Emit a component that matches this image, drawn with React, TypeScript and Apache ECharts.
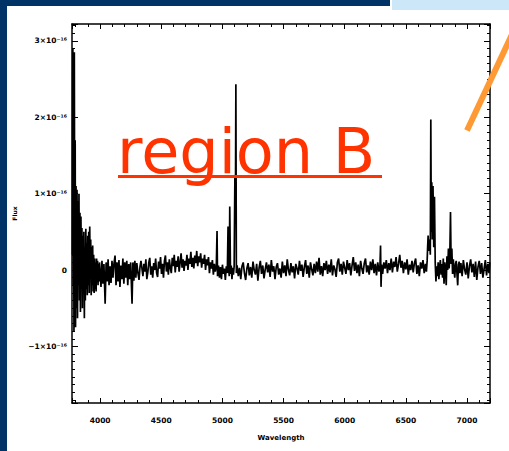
import React, { useEffect, useRef } from "react";
import * as echarts from "echarts";

// Spectrum: [wavelength (Å), flux in units of 1e-16]
const spectrum: [number, number][] = [
  [3774, 0.2], [3777, 2.9], [3780, -0.2], [3783, 1.75], [3786, -0.8], [3789, 2.85], [3792, 0.4],
  [3796, 1.7], [3799, -0.75], [3803, 1.1], [3807, -0.5], [3811, 1.05], [3815, -0.63], [3819, 0.9],
  [3823, -0.2], [3827, 1.0], [3831, -0.4], [3835, 0.75], [3839, -0.55], [3843, 0.7], [3847, -0.1],
  [3851, 0.55], [3855, -0.5], [3859, 0.45], [3863, -0.3], [3867, 0.5], [3871, -0.63], [3875, 0.3],
  [3879, -0.4], [3883, 0.54], [3887, -0.25], [3891, 0.35], [3895, -0.33], [3899, 0.45], [3903, -0.2],
  [3907, 0.5], [3911, -0.3], [3915, 0.57], [3919, -0.1], [3923, 0.4], [3927, -0.33], [3931, 0.3],
  [3935, -0.2], [3939, 0.32], [3943, -0.28], [3947, 0.2], [3951, -0.3], [3955, 0.15], [3959, -0.25],
  [3963, 0.1], [3967, -0.28], [3971, 0.15], [3975, -0.15], [3979, 0.12], [3983, -0.2], [3987, 0.08],
  [3991, -0.15], [3995, 0.1],
  [3999, 0.1], [4007, -0.22], [4015, 0.12], [4023, -0.18], [4031, 0.08], [4041, -0.44], [4049, 0.1],
  [4057, -0.15], [4065, 0.14], [4073, -0.2], [4081, 0.05], [4089, -0.17], [4097, 0.12], [4105, -0.1],
  [4113, 0.08], [4122, 0.19], [4130, -0.2], [4138, 0.1], [4146, -0.15], [4154, 0.13], [4162, -0.22],
  [4170, 0.06], [4178, -0.12], [4186, 0.15], [4194, -0.18], [4202, 0.1], [4210, -0.1], [4218, 0.12],
  [4226, -0.2], [4234, 0.08], [4242, -0.12], [4250, 0.1], [4261, -0.44], [4268, 0.1], [4276, -0.14],
  [4284, 0.12], [4292, -0.1], [4300, 0.09],
  [4310, -0.05], [4318, -0.13], [4326, 0.04], [4334, 0.12], [4342, 0.02], [4350, -0.08], [4358, 0.08],
  [4366, -0.02], [4374, 0.14], [4382, -0.12], [4390, -0.03], [4398, 0.1], [4406, 0.16], [4414, -0.06],
  [4422, 0.05], [4430, -0.1], [4438, 0.09], [4446, 0.0], [4454, 0.15], [4462, -0.04], [4470, -0.09],
  [4478, 0.11], [4486, 0.02], [4494, 0.17], [4502, -0.05], [4510, 0.08], [4518, -0.1], [4526, 0.12],
  [4534, 0.19], [4542, -0.02], [4550, 0.1], [4558, -0.06], [4566, 0.14], [4574, 0.03], [4582, -0.04],
  [4590, 0.16], [4598, 0.05], [4606, 0.2], [4614, -0.03], [4622, 0.12], [4630, 0.04], [4638, 0.18],
  [4646, -0.02], [4654, 0.1], [4662, 0.22], [4670, 0.03], [4678, 0.14], [4686, -0.01], [4694, 0.12],
  [4702, 0.06], [4710, 0.2], [4718, 0.0], [4726, 0.15], [4734, 0.08], [4742, 0.24], [4750, 0.04],
  [4758, 0.16], [4766, 0.02], [4774, 0.19], [4782, 0.09], [4790, 0.25], [4798, 0.05], [4806, 0.18],
  [4814, 0.1], [4822, 0.22], [4830, 0.03], [4838, 0.15], [4846, 0.08], [4854, 0.2], [4862, 0.0],
  [4870, 0.14], [4878, 0.06], [4886, 0.17], [4894, -0.04], [4902, 0.1], [4910, 0.02], [4918, 0.13],
  [4926, -0.06], [4934, 0.08], [4942, -0.02], [4950, 0.05],
  [4956, 0.51], [4960, -0.08], [4968, 0.06], [4976, -0.1], [4984, 0.04], [4992, -0.12], [5000, 0.07],
  [5008, -0.05], [5016, 0.02], [5024, -0.13], [5032, 0.05], [5040, -0.04], [5046, 0.57], [5052, 0.0],
  [5056, -0.08], [5060, 0.83], [5066, -0.05], [5072, 0.06], [5078, -0.12], [5084, 0.03], [5090, -0.06],
  [5096, 0.05], [5102, 1.23], [5106, 0.6], [5110, 2.43], [5114, -0.04], [5120, 0.06],
  [5130, -0.08], [5140, 0.03], [5150, -0.12], [5160, 0.05], [5170, 0.1], [5180, -0.04], [5190, -0.13],
  [5200, 0.02], [5210, 0.09], [5220, -0.07], [5230, 0.04], [5240, -0.1], [5250, 0.11], [5260, 0.0],
  [5270, -0.06], [5280, 0.08], [5290, -0.14], [5300, 0.03], [5310, 0.12], [5320, -0.05], [5330, 0.06],
  [5340, -0.11], [5350, 0.01], [5360, 0.1], [5370, -0.03], [5380, 0.07], [5390, -0.09], [5400, 0.13],
  [5410, -0.02], [5420, 0.05], [5430, -0.12], [5440, 0.04], [5450, 0.09], [5460, -0.06], [5470, 0.02],
  [5480, -0.1], [5490, 0.11], [5500, -0.04], [5510, 0.06], [5520, -0.08], [5530, 0.14], [5540, 0.0],
  [5550, -0.07], [5560, 0.09], [5570, -0.03], [5580, 0.05], [5590, -0.11], [5600, 0.08], [5610, 0.02],
  [5620, -0.06], [5630, 0.12], [5640, -0.01], [5650, 0.07], [5660, -0.09], [5670, 0.04], [5680, 0.13],
  [5690, -0.05], [5700, 0.06], [5710, -0.1], [5720, 0.1], [5730, 0.01], [5740, -0.07], [5750, 0.08],
  [5760, -0.04], [5770, 0.11], [5780, -0.02], [5790, 0.16], [5800, -0.06], [5810, 0.05], [5820, -0.08],
  [5830, 0.09], [5840, 0.0], [5850, 0.12], [5860, -0.05], [5870, 0.07], [5880, -0.03], [5890, 0.14],
  [5900, -0.07], [5910, 0.06], [5920, 0.01], [5930, -0.09], [5940, 0.1], [5950, 0.15], [5960, -0.02],
  [5970, 0.08], [5980, -0.06], [5990, 0.11], [6000, 0.03], [6010, -0.05], [6020, 0.13], [6030, 0.0],
  [6040, 0.09], [6050, -0.07], [6060, 0.06], [6070, 0.17], [6080, -0.01], [6090, 0.1], [6100, -0.04],
  [6110, 0.07], [6120, -0.08], [6130, 0.12], [6140, 0.02], [6150, -0.05], [6160, 0.09], [6170, 0.15],
  [6180, -0.03], [6190, 0.06], [6200, -0.06], [6210, 0.11], [6220, 0.0], [6230, 0.14], [6240, -0.04],
  [6250, 0.08], [6260, -0.07], [6270, 0.1], [6280, -0.02], [6288, 0.05], [6293, 0.32], [6297, -0.22],
  [6302, 0.07], [6310, -0.05], [6320, 0.1], [6330, 0.02], [6340, 0.13], [6350, -0.04], [6360, 0.09],
  [6370, 0.0], [6380, 0.15], [6390, -0.03], [6400, 0.11], [6410, 0.04], [6420, 0.17], [6430, -0.02],
  [6440, 0.08], [6450, 0.2], [6460, 0.03], [6470, 0.12], [6480, -0.04], [6490, 0.1], [6500, 0.01],
  [6510, 0.14], [6520, -0.06], [6530, 0.07], [6540, 0.0], [6550, 0.12], [6560, -0.03], [6570, 0.09],
  [6580, 0.15], [6590, -0.05], [6600, 0.06], [6610, -0.08], [6620, 0.1], [6630, 0.02], [6640, 0.13],
  [6650, -0.04], [6660, 0.08], [6668, -0.02], [6674, 0.12],
  [6678, 0.3], [6682, 0.45], [6688, 0.25], [6694, 0.4], [6700, 0.2], [6704, 1.97], [6708, 0.5],
  [6712, 1.15], [6716, 0.4], [6722, 1.1], [6728, 0.3], [6734, 0.96], [6740, 0.1],
  [6746, -0.15], [6752, 0.05], [6758, -0.08], [6764, 0.1], [6770, -0.12], [6776, 0.04], [6782, 0.13],
  [6788, -0.06], [6794, 0.08], [6800, -0.1], [6806, 0.15], [6812, -0.18], [6818, 0.1], [6824, 0.02],
  [6830, -0.2], [6836, 0.18], [6842, 0.0], [6848, 0.28], [6854, 0.02], [6860, 0.25], [6865, 0.76],
  [6870, 0.08], [6876, 0.28], [6882, -0.05], [6888, 0.14], [6894, 0.0], [6900, -0.1], [6906, 0.08],
  [6912, 0.12], [6918, -0.05], [6924, -0.2], [6930, 0.07], [6936, 0.11], [6942, -0.04], [6950, 0.09],
  [6960, -0.08], [6970, 0.13], [6980, 0.01], [6990, -0.06], [7000, 0.1], [7010, -0.11], [7020, 0.05],
  [7030, 0.14], [7040, -0.03], [7050, 0.08], [7060, -0.09], [7070, 0.11], [7080, -0.13], [7090, 0.04],
  [7100, 0.12], [7110, -0.05], [7120, 0.09], [7130, -0.1], [7140, 0.02], [7150, 0.13], [7160, -0.07],
  [7170, 0.08], [7180, -0.04], [7186, 0.1],
];

const xRange: [number, number] = [3770, 7188];
const yRange: [number, number] = [-1.74, 3.22];
const xTickStep = 500;
const yTickStep = 1;
const xName = "Wavelength";
const yName = "Flux";
const overlayText = "region B";

const SUP: Record<string, string> = { "-": "⁻", "0": "⁰", "1": "¹", "2": "²", "3": "³", "4": "⁴", "5": "⁵", "6": "⁶", "7": "⁷", "8": "⁸", "9": "⁹" };
const sup = (s: string) => s.split("").map((c) => SUP[c] ?? c).join("");

function yFmt(v: number): string {
  if (Math.abs(v - Math.round(v)) > 1e-6) return "";
  const r = Math.round(v);
  if (r === 0) return "0";
  return `${r < 0 ? "−" : ""}${Math.abs(r)}×10${sup("-16")}`;
}
function xFmt(v: number): string {
  if (Math.abs(v / xTickStep - Math.round(v / xTickStep)) > 1e-6) return "";
  return String(Math.round(v));
}

const FONT = "DejaVu Sans";

export default function App() {
  const ref = useRef<HTMLDivElement>(null);
  useEffect(() => {
    if (!ref.current) return;
    const chart = echarts.init(ref.current, undefined, { renderer: "svg" });
    const axisLine = { show: true, onZero: false, lineStyle: { color: "#000", width: 1.5 } };
    const baseX = (pos: "bottom" | "top", labels: boolean) => ({
      type: "value" as const,
      position: pos,
      min: xRange[0],
      max: xRange[1],
      minInterval: xTickStep,
      maxInterval: xTickStep,
      axisLine,
      axisTick: { show: true, inside: true, length: 5, lineStyle: { color: "#000", width: 1 } },
      minorTick: { show: true, splitNumber: 5, length: 3, lineStyle: { color: "#000", width: 1 } },
      splitLine: { show: false },
      axisLabel: labels
        ? { show: true, formatter: xFmt, fontSize: 7.5, fontWeight: "bold" as const, color: "#000", fontFamily: FONT, margin: 13 }
        : { show: false },
      name: labels ? xName : "",
      nameLocation: "middle" as const,
      nameGap: 31,
      nameTextStyle: { fontSize: 7, fontWeight: "bold" as const, color: "#000", fontFamily: FONT },
    });
    const baseY = (pos: "left" | "right", labels: boolean) => ({
      type: "value" as const,
      position: pos,
      min: yRange[0],
      max: yRange[1],
      minInterval: yTickStep,
      maxInterval: yTickStep,
      axisLine,
      axisTick: { show: true, inside: true, length: 6, lineStyle: { color: "#000", width: 1 } },
      minorTick: { show: true, splitNumber: 10, length: 3, lineStyle: { color: "#000", width: 1 } },
      splitLine: { show: false },
      axisLabel: labels
        ? { show: true, formatter: yFmt, fontSize: 7.5, fontWeight: "bold" as const, color: "#000", fontFamily: FONT, margin: 5 }
        : { show: false },
      name: labels ? yName : "",
      nameLocation: "middle" as const,
      nameGap: 46,
      nameTextStyle: { fontSize: 6, fontWeight: "bold" as const, color: "#000", fontFamily: FONT },
    });
    chart.setOption({
      animation: false,
      backgroundColor: "#ffffff",
      grid: { left: 72, right: 19, top: 24, bottom: 48, containLabel: false },
      xAxis: [baseX("bottom", true), baseX("top", false)],
      yAxis: [baseY("left", true), baseY("right", false)],
      series: [
        {
          type: "line",
          xAxisIndex: 0,
          yAxisIndex: 0,
          data: spectrum,
          showSymbol: false,
          symbol: "none",
          clip: true,
          lineStyle: { color: "#000", width: 1.7 },
          z: 2,
        },
      ],
      graphic: [
        { type: "rect", shape: { x: 0, y: 0, width: 7, height: 451 }, style: { fill: "#003366" }, z: 10 },
        { type: "rect", shape: { x: 0, y: 0, width: 390, height: 6 }, style: { fill: "#003366" }, z: 10 },
        { type: "rect", shape: { x: 392, y: 0, width: 117, height: 10 }, style: { fill: "#cce8f8" }, z: 10 },
        {
          type: "text",
          x: 117,
          y: 151.5,
          z: 20,
          style: {
            text: overlayText,
            fill: "#ff3300",
            font: `62px "${FONT}"`,
            align: "left",
            verticalAlign: "middle",
          },
        },
        { type: "rect", shape: { x: 118, y: 175, width: 264, height: 3 }, style: { fill: "#ff3300" }, z: 20 },
        {
          type: "line",
          shape: { x1: 467, y1: 130.5, x2: 516, y2: 26 },
          style: { stroke: "#ff9933", lineWidth: 6 },
          z: 20,
        },
      ],
    });
    return () => chart.dispose();
  }, []);
  return (
    <div
      ref={ref}
      style={{ position: "absolute", left: 0, top: 0, width: 509, height: 451 }}
    />
  );
}
